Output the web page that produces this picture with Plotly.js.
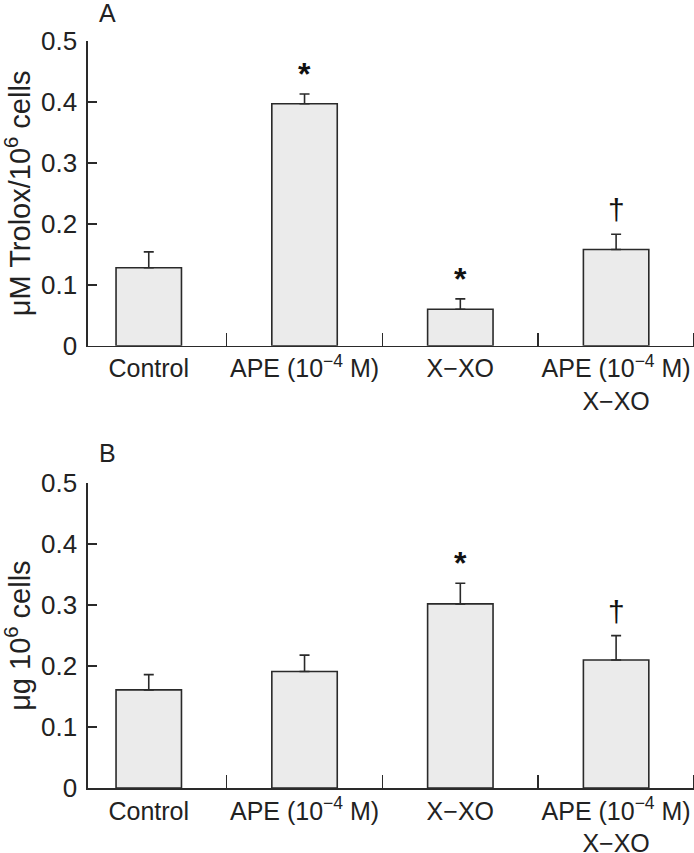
<!DOCTYPE html>
<html>
<head>
<meta charset="utf-8">
<script src="https://cdn.plot.ly/plotly-3.0.1.min.js"></script>
<style>html,body{margin:0;padding:0;background:#fff;}#chart{width:694px;height:853px;}</style>
</head>
<body>
<div id="chart"></div>
<script>
// ---- data ----
const categories = ['Control', 'APE (10<sup>−4</sup> M)', 'X−XO', 'APE (10<sup>−4</sup> M)<br>X−XO'];
const catIndex = [0, 1, 2, 3];
const troloxMean = [0.128, 0.397, 0.060, 0.158];
const troloxSem = [0.026, 0.016, 0.017, 0.025];
const troloxMarks = ['', '*', '*', '†'];
const mdaMean = [0.161, 0.191, 0.302, 0.210];
const mdaSem = [0.025, 0.027, 0.034, 0.040];
const mdaMarks = ['', '', '*', '†'];
const yTickVals = [0, 0.1, 0.2, 0.3, 0.4, 0.5];
const yTickText = ['0', '0.1', '0.2', '0.3', '0.4', '0.5'];
const dividers = [0.5, 1.5, 2.5, 3.5];

const FONT = 'Liberation Sans, Arial, sans-serif';
const INK = '#2a2a2a';

function barTrace(y, err, xa, ya) {
  return {
    type: 'bar', x: catIndex, y: y, xaxis: xa, yaxis: ya,
    width: 0.42,
    marker: {color: '#ebebeb', line: {color: INK, width: 1.6}},
    error_y: {type: 'data', array: err, arrayminus: err.map(() => 0), symmetric: false,
              color: INK, thickness: 1.6, width: 5},
    hoverinfo: 'skip', showlegend: false
  };
}

function xAxis(domainAnchor) {
  return {
    anchor: domainAnchor, range: [-0.39, 3.5], domain: [0, 1],
    showline: true, linecolor: INK, linewidth: 1.6, zeroline: false, showgrid: false,
    tickmode: 'array', tickvals: catIndex, ticktext: categories, ticks: '',
    tickfont: {family: FONT, size: 25, color: '#222'},
    minor: {tickmode: 'array', tickvals: dividers, ticks: 'inside', ticklen: 13, tickwidth: 1.6, tickcolor: INK, showgrid: false}
  };
}

function yAxis(anchor, domain, title) {
  return {
    anchor: anchor, domain: domain, range: [0, 0.5],
    showline: true, linecolor: INK, linewidth: 1.6, zeroline: false, showgrid: false,
    tickmode: 'array', tickvals: yTickVals, ticktext: yTickText,
    ticks: 'inside', ticklen: 9, tickwidth: 1.6, tickcolor: INK,
    ticklabelstandoff: 4,
    tickfont: {family: FONT, size: 26, color: '#222'},
    title: {text: title, font: {family: FONT, size: 29, color: '#222'}, standoff: 5}
  };
}

function markAnnotations(means, sems, marks, xa, ya) {
  const out = [];
  marks.forEach((m, i) => {
    if (!m) return;
    const isDagger = m === '†';
    out.push({
      x: catIndex[i], y: means[i] + sems[i], xref: xa, yref: ya,
      text: isDagger ? m : '<b>' + m + '</b>', showarrow: false, yanchor: 'bottom',
      yshift: isDagger ? 6 : 0,
      font: {family: FONT, size: isDagger ? 30 : 32, color: '#111'}
    });
  });
  return out;
}

const data = [
  barTrace(troloxMean, troloxSem, 'x', 'y'),
  barTrace(mdaMean, mdaSem, 'x2', 'y2')
];

const layout = {
  width: 694, height: 853,
  margin: {l: 88, r: 0, t: 41, b: 65},
  paper_bgcolor: '#fff', plot_bgcolor: '#fff',
  bargap: 0,
  xaxis: xAxis('y'),
  yaxis: yAxis('x', [0.592, 1], 'μM Trolox/10<sup>6</sup> cells'),
  xaxis2: xAxis('y2'),
  yaxis2: yAxis('x2', [0, 0.408], 'μg 10<sup>6</sup> cells'),
  annotations: [
    {text: 'A', xref: 'paper', yref: 'paper', x: 0.015, y: 1.0, xanchor: 'left', yanchor: 'bottom', yshift: 12,
     showarrow: false, font: {family: FONT, size: 25, color: '#222'}},
    {text: 'B', xref: 'paper', yref: 'paper', x: 0.015, y: 0.408, xanchor: 'left', yanchor: 'bottom', yshift: 14,
     showarrow: false, font: {family: FONT, size: 25, color: '#222'}}
  ].concat(markAnnotations(troloxMean, troloxSem, troloxMarks, 'x', 'y'))
   .concat(markAnnotations(mdaMean, mdaSem, mdaMarks, 'x2', 'y2'))
};

Plotly.newPlot('chart', data, layout, {staticPlot: true, displayModeBar: false});
</script>
</body>
</html>
